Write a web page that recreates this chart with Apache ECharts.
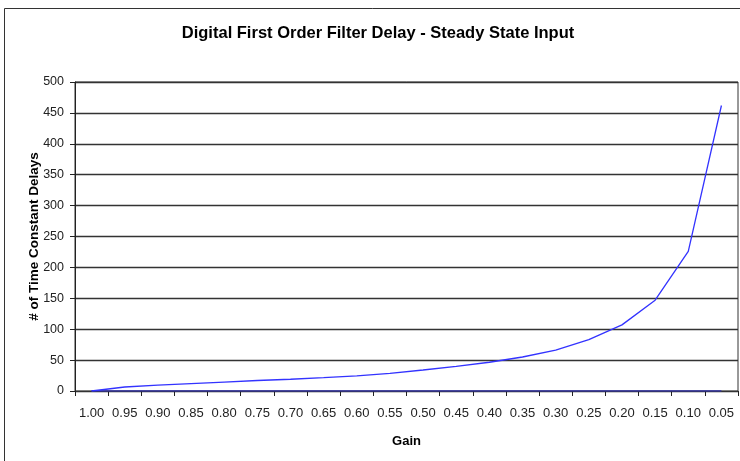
<!DOCTYPE html>
<html>
<head>
<meta charset="utf-8">
<title>Digital First Order Filter Delay</title>
<script src="https://cdn.jsdelivr.net/npm/echarts@6/dist/echarts.min.js"></script>
<style>
  html, body { margin: 0; padding: 0; background: #ffffff; }
  #chart { width: 740px; height: 461px; }
</style>
</head>
<body>
<div id="chart"></div>
<script>
// Filter gain settings (x axis categories)
const gainLabels = ['1.00', '0.95', '0.90', '0.85', '0.80', '0.75', '0.70', '0.65', '0.60', '0.55',
                    '0.50', '0.45', '0.40', '0.35', '0.30', '0.25', '0.20', '0.15', '0.10', '0.05'];
// Number of time-constant delays needed to settle for each gain
const delayValues = [0, 6.5, 9.5, 12, 14.5, 17, 19, 21.5, 24.5, 28.5,
                     34, 40, 46.5, 55, 66, 83, 107, 147, 226, 462];
// Reference baseline series
const baselineValues = [0, 0, 0, 0, 0, 0, 0, 0, 0, 0, 0, 0, 0, 0, 0, 0, 0, 0, 0, 0];
// Y axis range
const yMin = 0, yMax = 500, yStep = 50;

const FONT = '"Liberation Sans", Arial, sans-serif';
const chart = echarts.init(document.getElementById('chart'), null, { renderer: 'canvas' });

chart.setOption({
  backgroundColor: '#ffffff',
  animation: false,
  title: {
    text: 'Digital First Order Filter Delay - Steady State Input',
    left: 373,
    top: 20,
    textAlign: 'center',
    textStyle: { fontFamily: FONT, fontSize: 16.5, fontWeight: 'bold', color: '#000' }
  },
  graphic: [{
    type: 'rect',
    shape: { x: 4.5, y: 8.5, width: 800, height: 500 },
    style: { fill: 'none', stroke: '#333', lineWidth: 1 },
    silent: true
  }],
  grid: {
    left: 75, right: 2, top: 82, bottom: 70,
    show: true, borderColor: '#333', borderWidth: 1, backgroundColor: 'transparent'
  },
  xAxis: {
    type: 'category',
    data: gainLabels,
    boundaryGap: true,
    name: 'Gain',
    nameLocation: 'middle',
    nameGap: 44,
    nameMoveOverlap: false,
    nameTextStyle: { fontFamily: FONT, fontSize: 13, fontWeight: 'bold', color: '#000', verticalAlign: 'top' },
    axisLine: { show: true, lineStyle: { color: '#333', width: 1 } },
    axisTick: { show: true, alignWithLabel: false, length: 5, lineStyle: { color: '#222' } },
    axisLabel: { interval: 0, margin: 16, fontFamily: FONT, fontSize: 13, color: '#222' },
    splitLine: { show: false }
  },
  yAxis: {
    type: 'value',
    min: yMin, max: yMax, interval: yStep,
    name: '# of Time Constant Delays',
    nameLocation: 'middle',
    nameGap: 34,
    nameMoveOverlap: false,
    nameTextStyle: { fontFamily: FONT, fontSize: 13.5, fontWeight: 'bold', color: '#000' },
    axisLine: { show: true, lineStyle: { color: '#222', width: 1 } },
    axisTick: { show: true, length: 5, lineStyle: { color: '#222' } },
    axisLabel: { margin: 11, fontFamily: FONT, fontSize: 12.5, color: '#222' },
    splitLine: { show: true, lineStyle: { color: '#333', width: 1.3 } }
  },
  series: [
    {
      type: 'line',
      data: baselineValues,
      showSymbol: false,
      lineStyle: { color: '#3333aa', width: 1.5 },
      z: 3
    },
    {
      type: 'line',
      data: delayValues,
      showSymbol: false,
      lineStyle: { color: '#3333ff', width: 1.3 },
      z: 4
    }
  ]
});
</script>
</body>
</html>
